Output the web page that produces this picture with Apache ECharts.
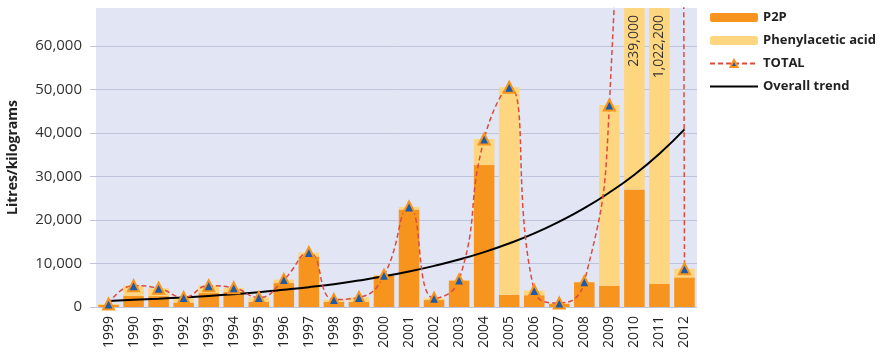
<!DOCTYPE html>
<html>
<head>
<meta charset="utf-8">
<script src="https://cdn.jsdelivr.net/npm/echarts@6/dist/echarts.min.js"></script>
<style>
  html, body { margin: 0; padding: 0; background: #fff; }
  #chart { width: 888px; height: 352px; }
</style>
</head>
<body>
<div id="chart"></div>
<script>
// years as printed on the source chart (first label really reads 1999)
var years = ['1999', '1990', '1991', '1992', '1993', '1994', '1995', '1996', '1997', '1998', '1999',
  '2000', '2001', '2002', '2003', '2004', '2005', '2006', '2007', '2008', '2009', '2010', '2011', '2012'];

var p2p = [500, 2600, 2500, 1000, 3200, 3500, 1200, 5500, 11600, 1200, 1200,
  7200, 22400, 1600, 6100, 32600, 2800, 2700, 700, 5700, 4900, 27000, 5300, 6800];

var phenylacetic = [200, 2300, 1800, 1200, 1700, 900, 1000, 800, 900, 500, 1000,
  100, 600, 400, 100, 6000, 47700, 1100, 200, 100, 41500, 212000, 1016900, 2000];

var totals = [700, 4900, 4300, 2200, 4900, 4400, 2200, 6300, 12500, 1700, 2200,
  7300, 23000, 2000, 6200, 38600, 50500, 3800, 900, 5800, 46400, 239000, 1022200, 8800];

var trend = [1400, 1650, 1900, 2200, 2550, 2950, 3400, 3950, 4550, 5250, 6100, 7050,
  8150, 9450, 10900, 12600, 14600, 16900, 19600, 22700, 26300, 30400, 35200, 40800];

var yTicks = [0, 10000, 20000, 30000, 40000, 50000, 60000];
var yMax = 68700;

var chart = echarts.init(document.getElementById('chart'));

var fmt = function (v) { return Number(v).toLocaleString('en-US'); };

var option = {
  animation: false,
  textStyle: { fontFamily: 'Open Sans' },
  grid: {
    left: 96, right: 191, top: 8, bottom: 45,
    outerBoundsMode: 'none',
    show: true, backgroundColor: '#e2e5f3', borderWidth: 0
  },
  legend: {
    orient: 'vertical',
    left: 704, top: 6,
    itemWidth: 48, itemHeight: 9, itemGap: 10,
    textStyle: { fontSize: 13, fontWeight: 'bold', color: '#222' },
    data: [
      'P2P',
      'Phenylacetic acid',
      'TOTAL',
      { name: 'Overall trend', itemStyle: { opacity: 0 } }
    ]
  },
  xAxis: {
    type: 'category',
    data: years,
    axisLine: { show: false },
    axisTick: { show: false },
    axisLabel: { rotate: 90, margin: 9, fontSize: 14, color: '#222' }
  },
  yAxis: {
    type: 'value',
    min: 0, max: yMax,
    name: 'Litres/kilograms',
    nameLocation: 'middle',
    nameGap: 76,
    nameTextStyle: { fontSize: 14, fontWeight: 'bold', color: '#222' },
    axisLine: { show: false },
    axisTick: { show: true, length: 6, customValues: yTicks, lineStyle: { color: '#bfc4dc' } },
    axisLabel: { customValues: yTicks, fontSize: 15, color: '#333', margin: 14, formatter: fmt },
    splitLine: { lineStyle: { color: '#bfc4dc', width: 1 } }
  },
  series: [
    {
      name: 'P2P',
      type: 'bar',
      stack: 'sum',
      barWidth: '82%',
      itemStyle: { color: '#f7941d' },
      data: p2p
    },
    {
      name: 'Phenylacetic acid',
      type: 'bar',
      stack: 'sum',
      itemStyle: { color: '#fed67f' },
      label: {
        show: false,
        position: 'insideTop',
        rotate: 90,
        align: 'right',
        verticalAlign: 'middle',
        distance: 7,
        fontSize: 14,
        color: '#333',
        formatter: function (p) { return fmt(totals[p.dataIndex]); }
      },
      data: phenylacetic.map(function (v, i) {
        return totals[i] > yMax ? { value: v, label: { show: true } } : v;
      })
    },
    {
      name: 'Overall trend',
      type: 'line',
      smooth: true,
      symbol: 'none',
      lineStyle: { color: '#000', width: 2 },
      itemStyle: { color: '#000' },
      data: trend
    },
    {
      name: 'TOTAL',
      type: 'line',
      smooth: 0.5,
      symbol: 'triangle',
      symbolSize: 11,
      lineStyle: { color: '#dc4b3e', width: 1.5, type: [5, 3] },
      itemStyle: { color: '#1f5aa6', borderColor: '#f7941d', borderWidth: 2 },
      data: totals
    }
  ]
};

chart.setOption(option);
</script>
</body>
</html>
